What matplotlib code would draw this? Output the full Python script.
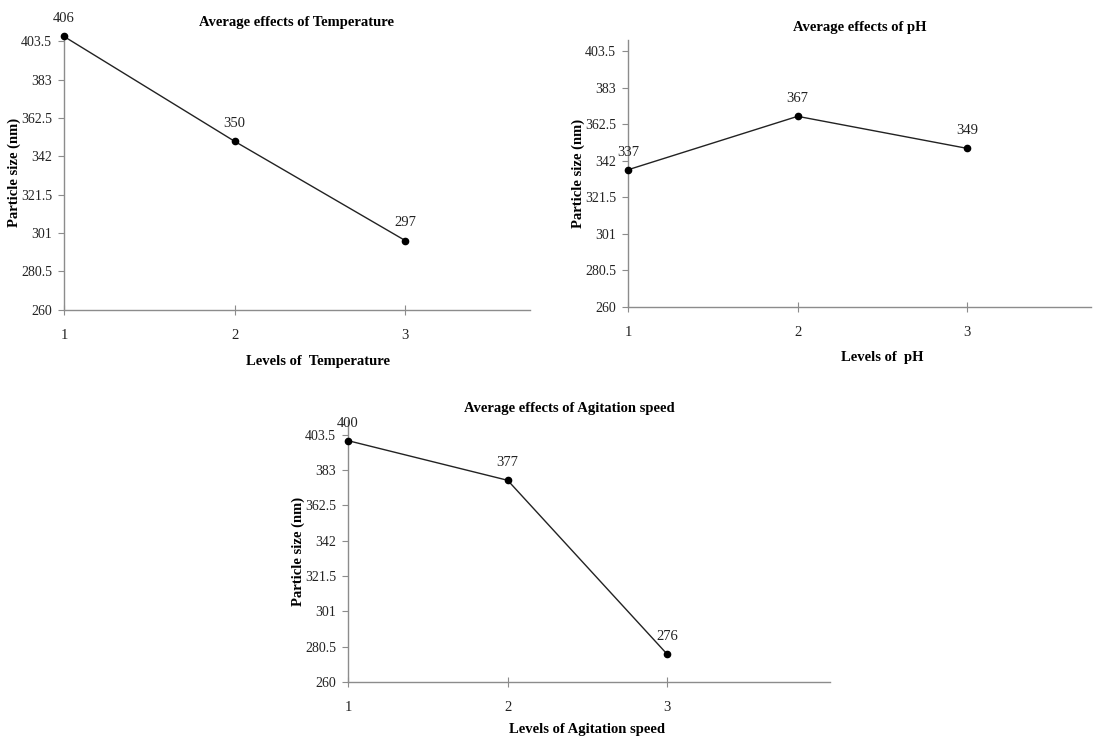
import matplotlib
matplotlib.use("Agg")
import matplotlib.pyplot as plt

plt.rcParams['font.family'] = ['Liberation Serif', 'DejaVu Serif']

levels = [1, 2, 3]
temperature = [406, 350, 297]
ph = [337, 367, 349]
agitation = [400, 377, 276]

yticks = [260, 280.5, 301, 321.5, 342, 362.5, 383, 403.5]
ytick_labels = ['260', '280.5', '301', '321.5', '342', '362.5', '383', '403.5']

fig = plt.figure(figsize=(10.96, 7.36), dpi=100)

def effect_plot(rect, values, title, xlabel, xmax, ymax, title_x, xlabel_x, xlabel_y, ylabel_x):
    ax = fig.add_axes(rect)
    ax.plot(levels, values, color='#222222', lw=1.0, marker='o', ms=4.5,
            mfc='black', mec='black', clip_on=False, zorder=3)
    for x, v in zip(levels, values):
        ax.annotate(str(v), (x, v), xytext=(0, 8), textcoords='offset points',
                    ha='center', va='bottom', fontsize=10.5, color='#222222')
    ax.set_xlim(1, xmax)
    ax.set_ylim(260, ymax)
    ax.set_xticks(levels)
    ax.set_yticks(yticks)
    ax.set_yticklabels(ytick_labels)
    for s in ['top', 'right']:
        ax.spines[s].set_visible(False)
    for s in ['left', 'bottom']:
        ax.spines[s].set_color('#8c8c8c')
        ax.spines[s].set_linewidth(1.0)
    ax.tick_params(axis='x', direction='inout', length=7, pad=10, colors='#8c8c8c',
                   labelcolor='#222222', labelsize=10.5)
    ax.tick_params(axis='y', direction='out', length=4, pad=4.5, colors='#8c8c8c',
                   labelcolor='#222222', labelsize=10)
    ax.set_title(title, fontsize=10.5, fontweight='bold', x=title_x, pad=6)
    ax.set_xlabel(xlabel, fontsize=10.5, fontweight='bold')
    ax.xaxis.set_label_coords(xlabel_x, xlabel_y)
    ax.set_ylabel('Particle size (nm)', fontsize=10.5, fontweight='bold')
    ax.yaxis.set_label_coords(ylabel_x, 0.5)
    return ax

effect_plot([0.0584, 0.579, 0.425, 0.374], temperature,
            'Average effects of Temperature', 'Levels of  Temperature',
            3.73, 407, 0.5, 0.545, -0.165, -0.092)
effect_plot([0.573, 0.583, 0.4225, 0.363], ph,
            'Average effects of pH', 'Levels of  pH',
            3.73, 410, 0.5, 0.55, -0.165, -0.093)
effect_plot([0.3175, 0.0734, 0.44, 0.356], agitation,
            'Average effects of Agitation speed', 'Levels of Agitation speed',
            4.02, 412, 0.46, 0.496, -0.158, -0.089)

fig.savefig('out.png', dpi=100)
